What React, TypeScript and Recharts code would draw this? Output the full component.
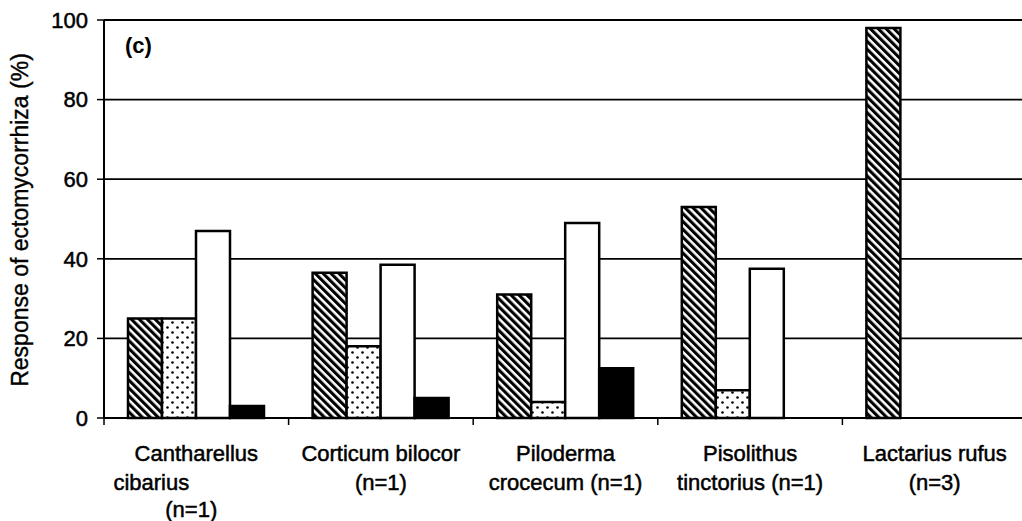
import { BarChart, Bar, XAxis, YAxis, CartesianGrid } from "recharts";

const categories = [
  "Cantharellus cibarius (n=1)",
  "Corticum bilocor (n=1)",
  "Piloderma crocecum (n=1)",
  "Pisolithus tinctorius (n=1)",
  "Lactarius rufus (n=3)",
];
const labelLines = [
  ["Cantharellus", "cibarius", "(n=1)"],
  ["Corticum bilocor", "(n=1)"],
  ["Piloderma", "crocecum (n=1)"],
  ["Pisolithus", "tinctorius (n=1)"],
  ["Lactarius rufus", "(n=3)"],
];
const hatchedValues = [25, 36.5, 31, 53, 98];
const dottedValues = [25, 18, 4, 7, null];
const openValues = [47, 38.5, 49, 37.5, null];
const solidValues = [3, 5, 12.5, null, null];
const yTicks = [0, 20, 40, 60, 80, 100];

const data = categories.map((name, i) => ({
  name,
  hatched: hatchedValues[i],
  dotted: dottedValues[i],
  open: openValues[i],
  solid: solidValues[i],
}));

const FONT = "'Liberation Sans', Arial, sans-serif";
const CHART_W = 1040;
const CHART_H = 521;
const MARGIN = { top: 20, right: 13, bottom: 0, left: 8 };
const Y_AXIS_W = 96;
const X_AXIS_H = 103;
const PLOT_LEFT = MARGIN.left + Y_AXIS_W;
const PLOT_W = CHART_W - PLOT_LEFT - MARGIN.right;
const PLOT_BOTTOM = CHART_H - MARGIN.bottom - X_AXIS_H;
const BAND = PLOT_W / categories.length;

// the scan has "cibarius" pushed left under the first label
const LINE_DX: Record<number, number[]> = { 0: [0, -45, -5] };
const LINE_Y = [43, 72, 99];

const CategoryTick = (props: any) => {
  const { x, index } = props;
  const lines = labelLines[index] || [];
  const shifts = LINE_DX[index] || [];
  const edge = x - BAND / 2;
  return (
    <g>
      <line x1={edge} x2={edge} y1={PLOT_BOTTOM} y2={PLOT_BOTTOM + 7} stroke="#000" strokeWidth={1.5} />
      {lines.map((t, k) => (
        <text
          key={k}
          x={x + (shifts[k] || 0)}
          y={PLOT_BOTTOM + LINE_Y[k]}
          textAnchor="middle"
          fontSize={22}
          fontFamily={FONT}
          fill="#000"
          stroke="#000"
          strokeWidth={0.5}
        >
          {t}
        </text>
      ))}
    </g>
  );
};

const YLabel = () => (
  <text
    transform="translate(28,220) rotate(-90)"
    textAnchor="middle"
    fontSize={23}
    fontFamily={FONT}
    fill="#000"
    stroke="#000"
    strokeWidth={0.4}
  >
    Response of ectomycorrhiza (%)
  </text>
);

export default function App() {
  return (
    <div
      style={{
        position: "absolute",
        left: 0,
        top: 0,
        width: 1022,
        height: 521,
        overflow: "hidden",
        background: "#fff",
      }}
    >
      <BarChart
        width={CHART_W}
        height={CHART_H}
        data={data}
        margin={MARGIN}
        barCategoryGap="13%"
        barGap={0}
      >
        <defs>
          <pattern id="hatch" patternUnits="userSpaceOnUse" width={5.6} height={5.6} patternTransform="rotate(-45)">
            <rect width={5.6} height={5.6} fill="#fff" />
            <rect width={3.1} height={5.6} fill="#000" />
          </pattern>
          <pattern id="dots" patternUnits="userSpaceOnUse" width={10} height={10}>
            <rect width={10} height={10} fill="#fff" />
            <circle cx={2.5} cy={2.5} r={1.3} fill="#000" />
            <circle cx={7.5} cy={7.5} r={1.3} fill="#000" />
          </pattern>
        </defs>
        <CartesianGrid vertical={false} stroke="#000" strokeWidth={1.8} />
        <XAxis
          dataKey="name"
          height={X_AXIS_H}
          interval={0}
          tickLine={false}
          axisLine={{ stroke: "#000", strokeWidth: 2 }}
          tick={(p: any) => <CategoryTick {...p} />}
        />
        <YAxis
          width={Y_AXIS_W}
          domain={[0, 100]}
          ticks={yTicks}
          tickSize={7}
          tickMargin={9}
          axisLine={{ stroke: "#000", strokeWidth: 2 }}
          tickLine={{ stroke: "#000", strokeWidth: 1.5 }}
          tick={{ fill: "#000", stroke: "#000", strokeWidth: 0.5, fontSize: 22, fontFamily: FONT }}
          label={<YLabel />}
        />
        <Bar dataKey="hatched" fill="url(#hatch)" stroke="#000" strokeWidth={2.5} isAnimationActive={false} />
        <Bar dataKey="dotted" fill="url(#dots)" stroke="#000" strokeWidth={2.5} isAnimationActive={false} />
        <Bar dataKey="open" fill="#fff" stroke="#000" strokeWidth={2.5} isAnimationActive={false} />
        <Bar dataKey="solid" fill="#000" stroke="#000" strokeWidth={2.5} isAnimationActive={false} />
        <text x={125} y={53} fontSize={22} fontWeight="bold" fontFamily={FONT} fill="#000">
          (c)
        </text>
      </BarChart>
    </div>
  );
}
